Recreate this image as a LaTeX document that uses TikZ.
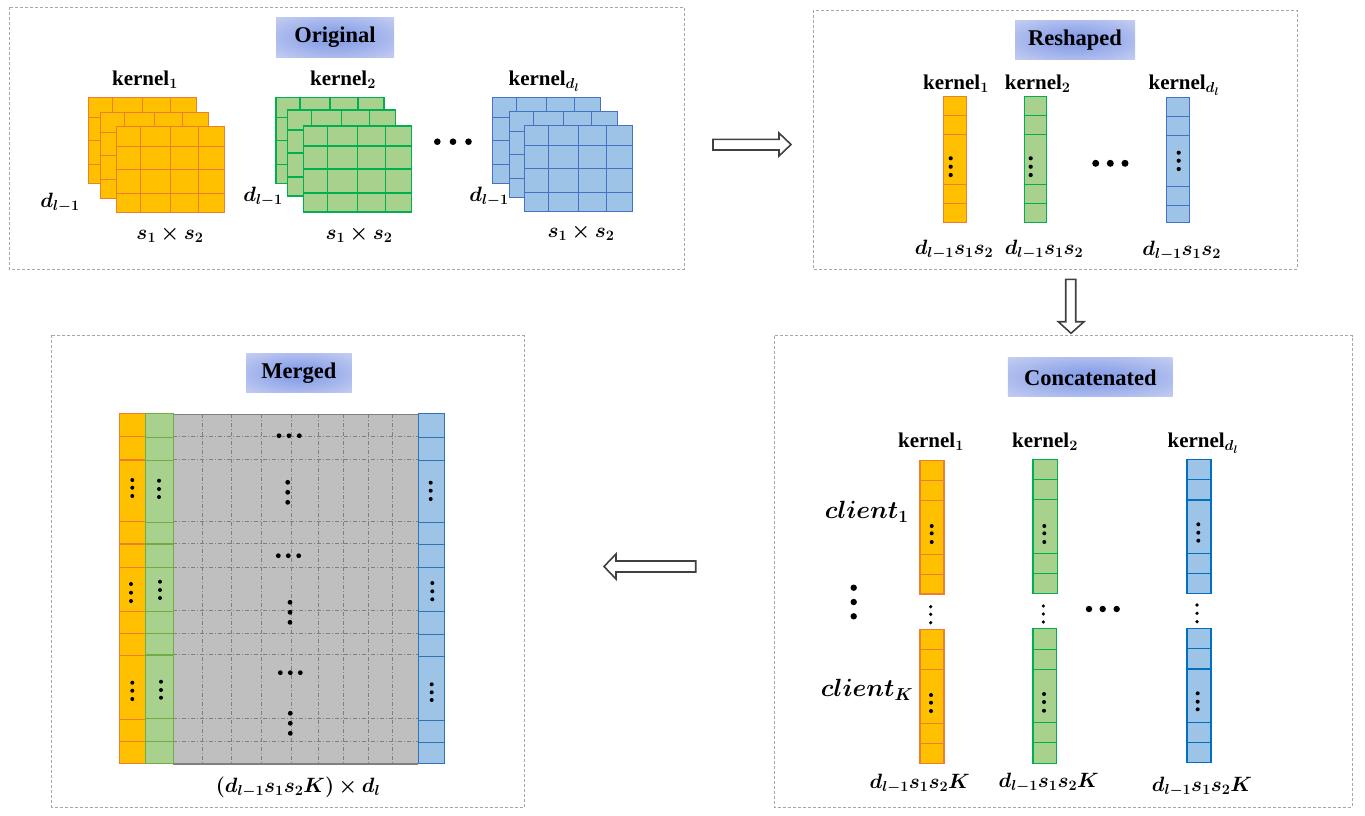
\documentclass[tikz,border=0pt]{standalone}
\usepackage{amsmath,bm}
\usepackage{fontspec}
\setmainfont{Liberation Serif}
\definecolor{panelgray}{HTML}{A6A6A6}
\definecolor{ofill}{HTML}{FFC000}
\definecolor{odraw}{HTML}{ED7D31}
\definecolor{gfill}{HTML}{A9D18E}
\definecolor{gdraw}{HTML}{00B050}
\definecolor{gdrawm}{HTML}{70AD47}
\definecolor{bfill}{HTML}{9DC3E6}
\definecolor{bdraw}{HTML}{4472C4}
\definecolor{bdrawc}{HTML}{0070C0}
\definecolor{bdrawm}{HTML}{2E75B6}
\definecolor{mgray}{HTML}{BFBFBF}
\definecolor{mline}{HTML}{7F7F7F}
\definecolor{arr}{HTML}{404040}
\definecolor{tbin}{RGB}{140,162,232}
\definecolor{tbout}{RGB}{224,228,247}
\pgfdeclareradialshading{tbshade}{\pgfpoint{0bp}{0bp}}{color(0bp)=(tbin); color(8bp)=(tbin); color(50bp)=(tbout); color(72bp)=(tbout)}
\usetikzlibrary{calc}
\newcommand\klayer[4]{%
  \filldraw[fill=#3,draw=#4,line width=1.2pt] (#1,#2) rectangle ++(108,86);
  \foreach \dx in {24,54,82}{\draw[#4,line width=1.2pt] ({#1+\dx},#2) -- ++(0,86);}
  \foreach \dy in {20,43,67}{\draw[#4,line width=1.2pt] (#1,{#2+\dy}) -- ++(108,0);}
}
\newcommand\kcol[7]{%
  \filldraw[fill=#5,draw=#6,line width=1.3pt] (#1,#3) rectangle (#2,#4);
  \foreach \yy in {#7}{\draw[#6,line width=1.3pt] (#1,\yy) -- (#2,\yy);}
}
\newcommand\vdts[5]{%
  \foreach \yy in {#2,#3,#4}{\fill[black] (#1,\yy) circle (#5);}
}
\newcommand\hdts[5]{%
  \foreach \xx in {#1,#2,#3}{\fill[black] (\xx,#4) circle (#5);}
}
\tikzset{
  panel/.style={draw=panelgray, line width=0.9pt, dash pattern=on 3pt off 2pt},
  titlebox/.style={shading=tbshade, inner sep=0pt, font=\fontsize{22.5}{26}\selectfont\bfseries},
  klab/.style={inner sep=0pt, font=\fontsize{21}{25}\selectfont\bfseries},
  mlab/.style={inner sep=0pt, font=\fontsize{21}{25}\selectfont},
  blockarrow/.style={draw=arr, fill=white, line width=1.6pt, line join=miter},
  gridline/.style={draw=mline, line width=0.8pt, dash pattern=on 4pt off 2pt on 1pt off 2pt}
}
\begin{document}
\begin{tikzpicture}[x=1pt,y=-1pt]
\useasboundingbox (0,0) rectangle (1365,815);

% ================= Original =================
\draw[panel] (9,7) rectangle (684,269);
\node[titlebox, minimum width=118pt, minimum height=40pt] (tOrig) at (335,37.5) {Original};
% orange stack
\klayer{88.3}{97.3}{ofill}{odraw}
\klayer{100.3}{112.3}{ofill}{odraw}
\klayer{116.3}{126.3}{ofill}{odraw}
% green stack
\klayer{276}{97.3}{gfill}{gdraw}
\klayer{287.3}{110}{gfill}{gdraw}
\klayer{303.3}{126}{gfill}{gdraw}
% blue stack
\klayer{492.3}{97.3}{bfill}{bdraw}
\klayer{509.3}{111.3}{bfill}{bdraw}
\klayer{524.3}{125.3}{bfill}{bdraw}
\hdts{437.3}{453}{468.5}{141.7}{3.3}
\node[klab] (ok1) at (145,80) {kernel$_{\bm{1}}$};
\node[klab] (ok2) at (343,80) {kernel$_{\bm{2}}$};
\node[klab] (ok3) at (544,81) {kernel$_{\bm{d_l}}$};
\node[mlab] (od1) at (60,203) {$\bm{d_{l-1}}$};
\node[mlab] (od2) at (263,197) {$\bm{d_{l-1}}$};
\node[mlab] (od3) at (489,197) {$\bm{d_{l-1}}$};
\node[mlab] (os1) at (170,234) {$\bm{s_1\times s_2}$};
\node[mlab] (os2) at (359,234) {$\bm{s_1\times s_2}$};
\node[mlab] (os3) at (581,232) {$\bm{s_1\times s_2}$};

% ================= Reshaped =================
\draw[panel] (813,10) rectangle (1297,269);
\node[titlebox, minimum width=120pt, minimum height=39pt] (tRes) at (1075,40) {Reshaped};
\kcol{943.3}{966.3}{96.7}{222.3}{ofill}{odraw}{115.7,134.7,184.3,203.3}
\kcol{1024.3}{1046.7}{96.7}{222.3}{gfill}{gdraw}{115.7,134.7,184.3,203.3}
\kcol{1166.3}{1189.3}{97.3}{222.3}{bfill}{bdraw}{116.3,135.3,186.3,205.7}
\vdts{950.7}{158.3}{166.7}{175}{2.1}
\vdts{1030.7}{158.3}{166.7}{175}{2.1}
\vdts{1178.7}{152.7}{160.7}{169}{2.1}
\hdts{1095.7}{1110.3}{1125}{163.3}{3.5}
\node[klab] (rk1) at (956,84) {kernel$_{\bm{1}}$};
\node[klab] (rk2) at (1037.7,84) {kernel$_{\bm{2}}$};
\node[klab] (rk3) at (1184,85) {kernel$_{\bm{d_l}}$};
\node[mlab] (rd1) at (954,250) {$\bm{d_{l-1}s_1s_2}$};
\node[mlab] (rd2) at (1044,250) {$\bm{d_{l-1}s_1s_2}$};
\node[mlab] (rd3) at (1181.7,251) {$\bm{d_{l-1}s_1s_2}$};

% ================= Merged =================
\draw[panel] (51.7,335.3) rectangle (524,807.3);
\node[titlebox, minimum width=105.7pt, minimum height=38.7pt] (tMer) at (298.9,373.3) {Merged};
\fill[mgray] (173.3,414.3) rectangle (418.3,764);
\foreach \xx in {202.7,231.7,261,291,318.3,343.3,368.3,392.3}{\draw[gridline] (\xx,414.3) -- (\xx,764);}
\foreach \yy in {436.3,459.7,521.7,543.7,567.3,610.7,633.3,654.7,718.7,741.7}{\draw[gridline] (173.3,\yy) -- (418.3,\yy);}
\draw[mline, line width=1.4pt] (173.3,414.3) -- (418.3,414.3);
\draw[mline, line width=1.4pt] (173.3,764) -- (418.3,764);
\kcol{119.3}{145.3}{413.7}{763.3}{ofill}{odraw}{436.7,460,521.7,544,567.3,611.7,633.3,655.7,719.3,741.7}
\kcol{145.3}{173.3}{413.7}{763.3}{gfill}{gdrawm}{437.3,460.7,522.7,544,567.3,611.7,633.3,655,718.3,741.7}
\kcol{418.3}{444.3}{413.7}{763.3}{bfill}{bdrawm}{437.3,460.7,522.7,544.3,567.7,611.7,634.3,656.7,720.7,742.7}
\vdts{132.3}{480}{487.7}{496}{2}
\vdts{131}{584}{592.7}{601}{2}
\vdts{132.3}{682.7}{690.7}{699}{2}
\vdts{159}{480.7}{489}{497}{2}
\vdts{160}{581.7}{590}{598}{2}
\vdts{161}{681.7}{690}{697.7}{2}
\vdts{430.7}{482.7}{490.7}{499}{2}
\vdts{432.3}{583}{591.3}{599.3}{2}
\vdts{431.7}{684.3}{692.3}{700}{2}
\hdts{279}{289}{299.3}{435.7}{2.4}
\vdts{287.7}{482.3}{492.3}{502.3}{2.4}
\hdts{278.3}{288.3}{298.7}{555.7}{2.4}
\vdts{290}{602.3}{612.3}{622.3}{2.4}
\hdts{280.3}{290.3}{300.3}{672.7}{2.4}
\vdts{290.3}{713.3}{723.3}{733.3}{2.4}
\node[mlab] (mlabel) at (298,787) {$\bm{(d_{l-1}s_1s_2K)\times d_l}$};

% ================= Concatenated =================
\draw[panel] (774,335.7) rectangle (1352,807);
\node[titlebox, minimum width=164.7pt, minimum height=38.7pt] (tCon) at (1090.3,377.3) {Concatenated};
\kcol{920}{944}{460.3}{594}{ofill}{odraw}{480.3,500.3,554.3,574.3}
\kcol{920}{944}{629.3}{763.3}{ofill}{odraw}{649.3,669.7,723.3,743.3}
\kcol{1033}{1057.3}{459.3}{593.3}{gfill}{gdraw}{479.3,499.7,553.3,573.3}
\kcol{1033}{1056.3}{628.3}{763.3}{gfill}{gdraw}{649.3,669.3,722.3,742.3}
\kcol{1187}{1211}{459.3}{593.3}{bfill}{bdrawc}{479.3,500,553.3,573.3}
\kcol{1187}{1211}{628.3}{762.3}{bfill}{bdrawc}{648.7,669,722.3,742.3}
\vdts{931.7}{526}{533.3}{542}{2}
\vdts{931}{695}{702.7}{711}{2}
\vdts{930.7}{606.7}{614.3}{622.7}{1.8}
\vdts{1044.3}{526}{533.3}{542}{2}
\vdts{1044}{694}{702}{710.7}{2}
\vdts{1043.3}{606}{614}{622}{1.8}
\vdts{1198.3}{524.3}{532.7}{540.7}{2}
\vdts{1197.7}{693.3}{701.7}{709.3}{2}
\vdts{1197}{605}{613.3}{621.7}{1.8}
\hdts{1089}{1102.7}{1116.7}{609}{3.2}
\vdts{853.7}{587.7}{602}{616.3}{3.2}
\node[klab] (ck1) at (931,442) {kernel$_{\bm{1}}$};
\node[klab] (ck2) at (1045,442) {kernel$_{\bm{2}}$};
\node[klab] (ck3) at (1203,443) {kernel$_{\bm{d_l}}$};
\node[mlab, font=\fontsize{23}{27}\selectfont] (cc1) at (866.7,512) {$\bm{client_1}$};
\node[mlab, font=\fontsize{23}{27}\selectfont] (ccK) at (867,690) {$\bm{client_K}$};
\node[mlab] (cd1) at (919.7,783.3) {$\bm{d_{l-1}s_1s_2K}$};
\node[mlab] (cd2) at (1048.7,783) {$\bm{d_{l-1}s_1s_2K}$};
\node[mlab] (cd3) at (1202,786.7) {$\bm{d_{l-1}s_1s_2K}$};

% ================= Arrows =================
\draw[blockarrow] (713,139.3) -- (779,139.3) -- (779,133) -- (791,144.5) -- (779,156) -- (779,150) -- (713,150) -- cycle;
\draw[blockarrow] (1065.7,279.3) -- (1075.7,279.3) -- (1075.7,321.7) -- (1084,321.7) -- (1071,333.3) -- (1058.3,321.7) -- (1065.7,321.7) -- cycle;
\draw[blockarrow] (695.7,561) -- (616,561) -- (616,554) -- (604,566.5) -- (616,579) -- (616,572) -- (695.7,572) -- cycle;
\end{tikzpicture}
\end{document}
